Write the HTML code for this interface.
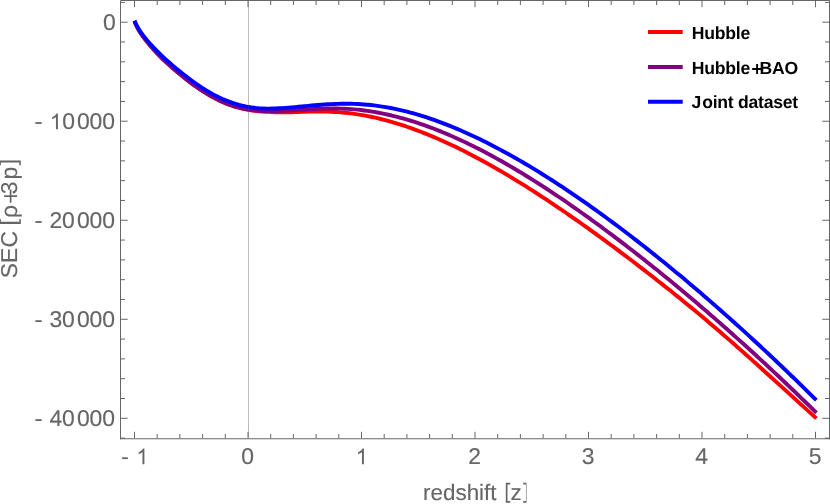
<!DOCTYPE html>
<html><head><meta charset="utf-8"><title>SEC plot</title>
<style>
html,body{margin:0;padding:0;background:#fff;}
body{width:830px;height:504px;overflow:hidden;font-family:"Liberation Sans",sans-serif;}
svg{display:block;will-change:transform;}
text{text-rendering:geometricPrecision;font-family:"Liberation Sans",sans-serif;font-size:22.9px;fill:#666666;stroke:#666666;stroke-width:0.14px;}
text.ls{letter-spacing:-0.25px;}
text.lc{font-size:22.4px;}
text.lg{font-size:17.6px;font-weight:bold;fill:#000;letter-spacing:-0.25px;stroke:none;}
</style></head><body>
<svg width="830" height="504" viewBox="0 0 830 504">
<rect x="0" y="0" width="830" height="504" fill="#ffffff"/>
<line x1="248.5" y1="1" x2="248.5" y2="438" stroke="#bdbdbd" stroke-width="1"/>
<path d="M134.50,20.85 L135.38,23.21 L136.26,25.26 L137.14,27.09 L138.02,28.75 L138.90,30.30 L139.78,31.75 L140.66,33.13 L141.53,34.42 L142.41,35.65 L143.29,36.84 L144.17,38.00 L145.05,39.13 L145.93,40.24 L146.81,41.34 L147.69,42.43 L148.57,43.50 L149.45,44.57 L150.33,45.63 L151.21,46.67 L152.09,47.70 L152.97,48.71 L153.84,49.71 L154.72,50.69 L155.60,51.66 L156.48,52.62 L157.36,53.56 L158.24,54.49 L159.12,55.40 L160.00,56.31 L163.29,59.57 L166.59,62.67 L169.88,65.63 L173.18,68.49 L176.47,71.31 L179.76,74.06 L183.06,76.74 L186.35,79.34 L189.65,81.89 L192.94,84.36 L196.23,86.74 L199.53,89.03 L202.82,91.22 L206.12,93.30 L209.41,95.26 L212.70,97.10 L216.00,98.82 L219.29,100.43 L222.59,101.92 L225.88,103.30 L229.17,104.57 L232.47,105.73 L235.76,106.78 L239.06,107.72 L242.35,108.56 L245.64,109.30 L248.94,109.93 L252.23,110.47 L255.53,110.90 L258.82,111.24 L262.11,111.51 L265.41,111.72 L268.70,111.90 L271.99,112.06 L275.29,112.20 L278.58,112.30 L281.88,112.35 L285.17,112.35 L288.46,112.31 L291.76,112.24 L295.05,112.13 L298.35,112.00 L301.64,111.88 L304.93,111.75 L308.23,111.65 L311.52,111.58 L314.82,111.53 L318.11,111.51 L321.40,111.53 L324.70,111.57 L327.99,111.66 L331.29,111.78 L334.58,111.94 L337.87,112.15 L341.17,112.39 L344.46,112.69 L347.76,113.03 L351.05,113.41 L354.34,113.85 L357.64,114.33 L360.93,114.86 L364.23,115.44 L367.52,116.06 L370.81,116.73 L374.11,117.44 L377.40,118.19 L380.70,118.99 L383.99,119.83 L387.28,120.70 L390.58,121.62 L393.87,122.57 L397.17,123.57 L400.46,124.60 L403.75,125.67 L407.05,126.77 L410.34,127.91 L413.64,129.09 L416.93,130.30 L420.22,131.54 L423.52,132.82 L426.81,134.13 L430.11,135.48 L433.40,136.85 L436.69,138.26 L439.99,139.70 L443.28,141.16 L446.58,142.66 L449.87,144.19 L453.16,145.75 L456.46,147.33 L459.75,148.95 L463.05,150.59 L466.34,152.25 L469.63,153.95 L472.93,155.66 L476.22,157.41 L479.52,159.17 L482.81,160.96 L486.10,162.78 L489.40,164.62 L492.69,166.48 L495.98,168.36 L499.28,170.26 L502.57,172.19 L505.87,174.13 L509.16,176.10 L512.45,178.08 L515.75,180.09 L519.04,182.11 L522.34,184.15 L525.63,186.22 L528.92,188.30 L532.22,190.39 L535.51,192.51 L538.81,194.64 L542.10,196.79 L545.39,198.95 L548.69,201.13 L551.98,203.33 L555.28,205.54 L558.57,207.77 L561.86,210.01 L565.16,212.26 L568.45,214.54 L571.75,216.82 L575.04,219.12 L578.33,221.43 L581.63,223.76 L584.92,226.09 L588.22,228.44 L591.51,230.81 L594.80,233.18 L598.10,235.57 L601.39,237.97 L604.69,240.38 L607.98,242.81 L611.27,245.24 L614.57,247.68 L617.86,250.14 L621.16,252.61 L624.45,255.08 L627.74,257.57 L631.04,260.07 L634.33,262.57 L637.63,265.09 L640.92,267.62 L644.21,270.15 L647.51,272.70 L650.80,275.26 L654.10,277.83 L657.39,280.41 L660.68,283.00 L663.98,285.61 L667.27,288.22 L670.57,290.85 L673.86,293.49 L677.15,296.14 L680.45,298.81 L683.74,301.49 L687.04,304.18 L690.33,306.88 L693.62,309.60 L696.92,312.33 L700.21,315.07 L703.51,317.83 L706.80,320.60 L710.09,323.39 L713.39,326.18 L716.68,329.00 L719.97,331.83 L723.27,334.67 L726.56,337.53 L729.86,340.40 L733.15,343.28 L736.44,346.18 L739.74,349.09 L743.03,352.01 L746.33,354.95 L749.62,357.89 L752.91,360.84 L756.21,363.80 L759.50,366.76 L762.80,369.73 L766.09,372.71 L769.38,375.70 L772.68,378.68 L775.97,381.67 L779.27,384.67 L782.56,387.66 L785.85,390.66 L789.15,393.66 L792.44,396.65 L795.74,399.65 L799.03,402.64 L802.32,405.64 L805.62,408.63 L808.91,411.62 L812.21,414.60 L815.50,417.58 L816.40,418.39" fill="none" stroke="#ff0000" stroke-width="3.9" stroke-linejoin="round"/>
<path d="M134.50,20.95 L135.38,23.22 L136.26,25.22 L137.14,27.03 L138.02,28.69 L138.90,30.24 L139.78,31.71 L140.66,33.10 L141.53,34.41 L142.41,35.66 L143.29,36.87 L144.17,38.04 L145.05,39.19 L145.93,40.31 L146.81,41.41 L147.69,42.50 L148.57,43.58 L149.45,44.64 L150.33,45.69 L151.21,46.72 L152.09,47.73 L152.97,48.73 L153.84,49.72 L154.72,50.69 L155.60,51.65 L156.48,52.59 L157.36,53.52 L158.24,54.44 L159.12,55.34 L160.00,56.24 L163.29,59.50 L166.59,62.61 L169.88,65.58 L173.18,68.47 L176.47,71.31 L179.76,74.07 L183.06,76.76 L186.35,79.36 L189.65,81.89 L192.94,84.34 L196.23,86.70 L199.53,88.97 L202.82,91.14 L206.12,93.21 L209.41,95.18 L212.70,97.05 L216.00,98.80 L219.29,100.44 L222.59,101.96 L225.88,103.36 L229.17,104.63 L232.47,105.78 L235.76,106.80 L239.06,107.69 L242.35,108.47 L245.64,109.13 L248.94,109.69 L252.23,110.15 L255.53,110.50 L258.82,110.77 L262.11,110.96 L265.41,111.07 L268.70,111.11 L271.99,111.10 L275.29,111.05 L278.58,110.95 L281.88,110.82 L285.17,110.67 L288.46,110.49 L291.76,110.30 L295.05,110.09 L298.35,109.89 L301.64,109.68 L304.93,109.48 L308.23,109.28 L311.52,109.10 L314.82,108.94 L318.11,108.79 L321.40,108.67 L324.70,108.58 L327.99,108.51 L331.29,108.48 L334.58,108.48 L337.87,108.52 L341.17,108.60 L344.46,108.72 L347.76,108.89 L351.05,109.11 L354.34,109.37 L357.64,109.68 L360.93,110.04 L364.23,110.44 L367.52,110.89 L370.81,111.38 L374.11,111.92 L377.40,112.51 L380.70,113.13 L383.99,113.80 L387.28,114.51 L390.58,115.26 L393.87,116.05 L397.17,116.88 L400.46,117.76 L403.75,118.67 L407.05,119.62 L410.34,120.60 L413.64,121.63 L416.93,122.69 L420.22,123.79 L423.52,124.92 L426.81,126.10 L430.11,127.30 L433.40,128.54 L436.69,129.82 L439.99,131.13 L443.28,132.47 L446.58,133.85 L449.87,135.26 L453.16,136.70 L456.46,138.18 L459.75,139.68 L463.05,141.22 L466.34,142.78 L469.63,144.38 L472.93,146.00 L476.22,147.65 L479.52,149.33 L482.81,151.04 L486.10,152.77 L489.40,154.53 L492.69,156.31 L495.98,158.12 L499.28,159.95 L502.57,161.81 L505.87,163.70 L509.16,165.60 L512.45,167.53 L515.75,169.48 L519.04,171.46 L522.34,173.45 L525.63,175.47 L528.92,177.51 L532.22,179.57 L535.51,181.65 L538.81,183.74 L542.10,185.86 L545.39,188.00 L548.69,190.16 L551.98,192.34 L555.28,194.53 L558.57,196.75 L561.86,198.98 L565.16,201.23 L568.45,203.49 L571.75,205.78 L575.04,208.08 L578.33,210.39 L581.63,212.72 L584.92,215.07 L588.22,217.44 L591.51,219.82 L594.80,222.21 L598.10,224.62 L601.39,227.05 L604.69,229.49 L607.98,231.94 L611.27,234.41 L614.57,236.89 L617.86,239.39 L621.16,241.90 L624.45,244.42 L627.74,246.95 L631.04,249.50 L634.33,252.06 L637.63,254.64 L640.92,257.22 L644.21,259.82 L647.51,262.43 L650.80,265.05 L654.10,267.69 L657.39,270.34 L660.68,273.00 L663.98,275.68 L667.27,278.36 L670.57,281.06 L673.86,283.77 L677.15,286.50 L680.45,289.23 L683.74,291.98 L687.04,294.74 L690.33,297.51 L693.62,300.30 L696.92,303.10 L700.21,305.91 L703.51,308.73 L706.80,311.57 L710.09,314.41 L713.39,317.27 L716.68,320.14 L719.97,323.03 L723.27,325.92 L726.56,328.83 L729.86,331.75 L733.15,334.69 L736.44,337.63 L739.74,340.59 L743.03,343.56 L746.33,346.54 L749.62,349.53 L752.91,352.54 L756.21,355.55 L759.50,358.58 L762.80,361.62 L766.09,364.68 L769.38,367.74 L772.68,370.82 L775.97,373.91 L779.27,377.01 L782.56,380.12 L785.85,383.25 L789.15,386.38 L792.44,389.53 L795.74,392.69 L799.03,395.86 L802.32,399.05 L805.62,402.24 L808.91,405.45 L812.21,408.67 L815.50,411.90 L816.40,412.78" fill="none" stroke="#800080" stroke-width="3.9" stroke-linejoin="round"/>
<path d="M134.50,20.77 L135.38,22.84 L136.26,24.67 L137.14,26.33 L138.02,27.87 L138.90,29.31 L139.78,30.67 L140.66,31.97 L141.53,33.21 L142.41,34.41 L143.29,35.57 L144.17,36.70 L145.05,37.80 L145.93,38.87 L146.81,39.92 L147.69,40.96 L148.57,41.97 L149.45,42.97 L150.33,43.96 L151.21,44.93 L152.09,45.89 L152.97,46.83 L153.84,47.77 L154.72,48.69 L155.60,49.60 L156.48,50.50 L157.36,51.39 L158.24,52.26 L159.12,53.13 L160.00,53.99 L163.29,57.13 L166.59,60.16 L169.88,63.08 L173.18,65.92 L176.47,68.68 L179.76,71.37 L183.06,73.99 L186.35,76.55 L189.65,79.05 L192.94,81.48 L196.23,83.83 L199.53,86.10 L202.82,88.27 L206.12,90.33 L209.41,92.29 L212.70,94.14 L216.00,95.87 L219.29,97.49 L222.59,99.00 L225.88,100.40 L229.17,101.68 L232.47,102.86 L235.76,103.92 L239.06,104.87 L242.35,105.71 L245.64,106.43 L248.94,107.05 L252.23,107.56 L255.53,107.96 L258.82,108.25 L262.11,108.45 L265.41,108.56 L268.70,108.59 L271.99,108.56 L275.29,108.47 L278.58,108.32 L281.88,108.14 L285.17,107.91 L288.46,107.66 L291.76,107.39 L295.05,107.09 L298.35,106.79 L301.64,106.48 L304.93,106.17 L308.23,105.86 L311.52,105.56 L314.82,105.26 L318.11,104.99 L321.40,104.73 L324.70,104.50 L327.99,104.29 L331.29,104.11 L334.58,103.96 L337.87,103.84 L341.17,103.77 L344.46,103.73 L347.76,103.74 L351.05,103.79 L354.34,103.88 L357.64,104.03 L360.93,104.21 L364.23,104.45 L367.52,104.73 L370.81,105.06 L374.11,105.43 L377.40,105.85 L380.70,106.32 L383.99,106.83 L387.28,107.39 L390.58,107.99 L393.87,108.63 L397.17,109.33 L400.46,110.06 L403.75,110.84 L407.05,111.66 L410.34,112.53 L413.64,113.44 L416.93,114.38 L420.22,115.37 L423.52,116.39 L426.81,117.45 L430.11,118.55 L433.40,119.69 L436.69,120.86 L439.99,122.07 L443.28,123.31 L446.58,124.58 L449.87,125.89 L453.16,127.23 L456.46,128.61 L459.75,130.01 L463.05,131.45 L466.34,132.91 L469.63,134.41 L472.93,135.93 L476.22,137.49 L479.52,139.07 L482.81,140.68 L486.10,142.32 L489.40,143.99 L492.69,145.68 L495.98,147.40 L499.28,149.14 L502.57,150.91 L505.87,152.70 L509.16,154.52 L512.45,156.37 L515.75,158.23 L519.04,160.13 L522.34,162.04 L525.63,163.98 L528.92,165.94 L532.22,167.92 L535.51,169.92 L538.81,171.95 L542.10,173.99 L545.39,176.06 L548.69,178.15 L551.98,180.26 L555.28,182.39 L558.57,184.53 L561.86,186.70 L565.16,188.89 L568.45,191.09 L571.75,193.32 L575.04,195.56 L578.33,197.82 L581.63,200.10 L584.92,202.40 L588.22,204.72 L591.51,207.05 L594.80,209.40 L598.10,211.76 L601.39,214.14 L604.69,216.54 L607.98,218.96 L611.27,221.39 L614.57,223.84 L617.86,226.30 L621.16,228.78 L624.45,231.27 L627.74,233.78 L631.04,236.30 L634.33,238.84 L637.63,241.39 L640.92,243.96 L644.21,246.54 L647.51,249.13 L650.80,251.74 L654.10,254.37 L657.39,257.00 L660.68,259.66 L663.98,262.32 L667.27,265.00 L670.57,267.70 L673.86,270.41 L677.15,273.13 L680.45,275.87 L683.74,278.61 L687.04,281.38 L690.33,284.16 L693.62,286.95 L696.92,289.75 L700.21,292.57 L703.51,295.40 L706.80,298.24 L710.09,301.10 L713.39,303.97 L716.68,306.86 L719.97,309.76 L723.27,312.67 L726.56,315.59 L729.86,318.53 L733.15,321.48 L736.44,324.44 L739.74,327.42 L743.03,330.41 L746.33,333.41 L749.62,336.42 L752.91,339.45 L756.21,342.49 L759.50,345.54 L762.80,348.61 L766.09,351.69 L769.38,354.78 L772.68,357.88 L775.97,361.00 L779.27,364.12 L782.56,367.27 L785.85,370.42 L789.15,373.58 L792.44,376.76 L795.74,379.95 L799.03,383.15 L802.32,386.36 L805.62,389.59 L808.91,392.83 L812.21,396.08 L815.50,399.34 L816.40,400.23" fill="none" stroke="#0000ff" stroke-width="3.9" stroke-linejoin="round"/>
<line x1="248.5" y1="103" x2="248.5" y2="113" stroke="#909090" stroke-width="1" opacity="0.16"/>
<path d="M120.5,439.25V0.5H829.5V439.25M120.0,438.75H830.0" fill="none" stroke="#666666" stroke-width="1"/>
<path d="M134.5,438.0v-6.2 M134.5,1.0v6.2 M157.2,438.0v-4 M157.2,1.0v4 M179.9,438.0v-4 M179.9,1.0v4 M202.6,438.0v-4 M202.6,1.0v4 M225.3,438.0v-4 M225.3,1.0v4 M248.0,438.0v-6.2 M248.0,1.0v6.2 M270.7,438.0v-4 M270.7,1.0v4 M293.4,438.0v-4 M293.4,1.0v4 M316.1,438.0v-4 M316.1,1.0v4 M338.8,438.0v-4 M338.8,1.0v4 M361.5,438.0v-6.2 M361.5,1.0v6.2 M384.2,438.0v-4 M384.2,1.0v4 M406.9,438.0v-4 M406.9,1.0v4 M429.6,438.0v-4 M429.6,1.0v4 M452.3,438.0v-4 M452.3,1.0v4 M475.0,438.0v-6.2 M475.0,1.0v6.2 M497.7,438.0v-4 M497.7,1.0v4 M520.4,438.0v-4 M520.4,1.0v4 M543.1,438.0v-4 M543.1,1.0v4 M565.8,438.0v-4 M565.8,1.0v4 M588.5,438.0v-6.2 M588.5,1.0v6.2 M611.2,438.0v-4 M611.2,1.0v4 M633.9,438.0v-4 M633.9,1.0v4 M656.6,438.0v-4 M656.6,1.0v4 M679.3,438.0v-4 M679.3,1.0v4 M702.0,438.0v-6.2 M702.0,1.0v6.2 M724.7,438.0v-4 M724.7,1.0v4 M747.4,438.0v-4 M747.4,1.0v4 M770.1,438.0v-4 M770.1,1.0v4 M792.8,438.0v-4 M792.8,1.0v4 M815.5,438.0v-6.2 M815.5,1.0v6.2 M121.0,438.1h4 M829.0,438.1h-4 M121.0,418.3h6.7 M829.0,418.3h-6.7 M121.0,398.5h4 M829.0,398.5h-4 M121.0,378.69h4 M829.0,378.69h-4 M121.0,358.88h4 M829.0,358.88h-4 M121.0,339.08h4 M829.0,339.08h-4 M121.0,319.27h6.7 M829.0,319.27h-6.7 M121.0,299.47h4 M829.0,299.47h-4 M121.0,279.66h4 M829.0,279.66h-4 M121.0,259.86h4 M829.0,259.86h-4 M121.0,240.05h4 M829.0,240.05h-4 M121.0,220.25h6.7 M829.0,220.25h-6.7 M121.0,200.44h4 M829.0,200.44h-4 M121.0,180.64h4 M829.0,180.64h-4 M121.0,160.83h4 M829.0,160.83h-4 M121.0,141.03h4 M829.0,141.03h-4 M121.0,121.22h6.7 M829.0,121.22h-6.7 M121.0,101.42h4 M829.0,101.42h-4 M121.0,81.61h4 M829.0,81.61h-4 M121.0,61.81h4 M829.0,61.81h-4 M121.0,42.0h4 M829.0,42.0h-4 M121.0,22.2h6.7 M829.0,22.2h-6.7 M121.0,2.39h4 M829.0,2.39h-4" stroke="#666666" stroke-width="1" fill="none"/>
<line x1="648" y1="32.0" x2="682.7" y2="32.0" stroke="#ff0000" stroke-width="4"/>
<line x1="648" y1="67.0" x2="682.7" y2="67.0" stroke="#800080" stroke-width="4"/>
<line x1="648" y1="101.8" x2="682.7" y2="101.8" stroke="#0000ff" stroke-width="4"/>
<text x="247.7" y="464.2" text-anchor="middle" >0</text>
<text x="474.7" y="464.2" text-anchor="middle" >2</text>
<text x="588.2" y="464.2" text-anchor="middle" >3</text>
<text x="701.7" y="464.2" text-anchor="middle" >4</text>
<text x="815.2" y="464.2" text-anchor="middle" >5</text>
<path transform="translate(355.7,464.2) scale(0.010742,-0.010742)" d="M763,0H583V1147Q518,1085 412.5,1023T223,930V1104Q373,1174.5 485,1275T644,1470H763Z" fill="#666666"/>
<path d="M122.1,458.2H127.9" stroke="#666666" stroke-width="1.8" fill="none"/>
<path transform="translate(136.2,464.2) scale(0.010742,-0.010742)" d="M763,0H583V1147Q518,1085 412.5,1023T223,930V1104Q373,1174.5 485,1275T644,1470H763Z" fill="#666666"/>
<text x="115.7" y="30.0" text-anchor="end" >0</text>
<text x="76.9" y="129.3" text-anchor="start" >000</text>
<path transform="translate(49.7,129.3) scale(0.010742,-0.010742)" d="M763,0H583V1147Q518,1085 412.5,1023T223,930V1104Q373,1174.5 485,1275T644,1470H763Z" fill="#666666"/>
<text x="62.2" y="129.3" text-anchor="start" >0</text>
<path d="M35.4,123.0H41.7" stroke="#666666" stroke-width="1.8" fill="none"/>
<text x="76.9" y="228.3" text-anchor="start" >000</text>
<text x="49.5" y="228.3" text-anchor="start" class="ls">20</text>
<path d="M35.4,222.0H41.7" stroke="#666666" stroke-width="1.8" fill="none"/>
<text x="76.9" y="327.4" text-anchor="start" >000</text>
<text x="49.5" y="327.4" text-anchor="start" class="ls">30</text>
<path d="M35.4,321.1H41.7" stroke="#666666" stroke-width="1.8" fill="none"/>
<text x="76.9" y="426.4" text-anchor="start" >000</text>
<text x="49.5" y="426.4" text-anchor="start" class="ls">40</text>
<path d="M35.4,420.1H41.7" stroke="#666666" stroke-width="1.8" fill="none"/>
<text x="423.1" y="499.6" text-anchor="start" class="lc">redshift</text>
<text x="510.5" y="499.6" text-anchor="start" class="lc">z</text>
<path d="M510.2,483.7H506.65V501.9H510.2M523.2,483.7H526.2M523.2,501.9H526.2" stroke="#666666" stroke-width="1.7" fill="none"/>
<path d="M526.4,483V502.6" stroke="#a8a8a8" stroke-width="1" fill="none"/>
<text transform="translate(17.2,278.2) rotate(-90)" x="0" y="0">SE</text>
<text transform="translate(17.2,247.4) rotate(-90)" x="0" y="0">C</text>
<text transform="translate(15.6,225.4) rotate(-90)" x="0" y="0">[</text>
<text transform="translate(17.2,218.1) rotate(-90)" x="0" y="0">ρ</text>
<text transform="translate(17.2,194.2) rotate(-90)" x="0" y="0">3</text>
<text transform="translate(17.2,179.4) rotate(-90)" x="0" y="0">p</text>
<text transform="translate(15.6,165.3) rotate(-90)" x="0" y="0">]</text>
<path d="M10.6,189.6V202.8M4.1,196.2H17.1" stroke="#666666" stroke-width="1.7" fill="none"/>
<text x="691.8" y="38.7" text-anchor="start" class="lg">Hubble</text>
<text x="691.8" y="73.7" text-anchor="start" class="lg">Hubble</text>
<path d="M757.1,64.1V73.9M752.2,69H762" stroke="#000" stroke-width="1.9" fill="none"/>
<text x="759.5" y="73.7" text-anchor="start" class="lg">BAO</text>
<text x="691.4" y="108.2" text-anchor="start" class="lg">J</text>
<text x="702.2" y="108.2" text-anchor="start" class="lg">oint dataset</text>
</svg>
</body></html>
